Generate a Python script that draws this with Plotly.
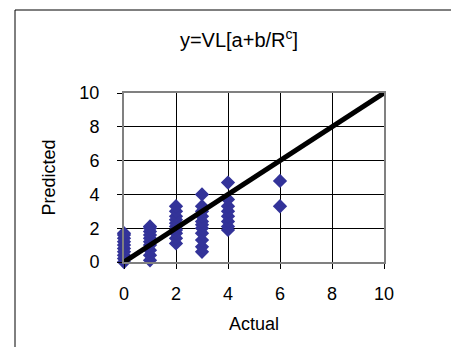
import plotly.graph_objects as go

# Data
actual = ([0] * 10 + [1] * 10 + [2] * 10 + [3] * 11 + [4] * 8 + [6] * 2)
predicted = [
    0.0, 0.2, 0.4, 0.6, 0.8, 1.0, 1.2, 1.4, 1.6, 1.7,
    0.1, 0.4, 0.7, 1.0, 1.2, 1.4, 1.6, 1.8, 2.0, 2.1,
    1.1, 1.4, 1.7, 1.9, 2.1, 2.3, 2.5, 2.7, 3.0, 3.3,
    0.6, 0.9, 1.3, 1.7, 2.0, 2.2, 2.4, 2.7, 3.0, 3.3, 4.0,
    1.9, 2.1, 2.4, 2.7, 3.0, 3.3, 3.7, 4.7,
    3.3, 4.8,
]
ideal_x = [0, 10]
ideal_y = [0, 10]
tick_vals = [0, 2, 4, 6, 8, 10]

W, H = 451, 347
L, R, T, B = 124, 67, 93, 85
pw, ph = W - L - R, H - T - B

def px_x(p):
    return (p - L) / pw

def px_y(p):
    return (H - B - p) / ph

fig = go.Figure()
fig.add_trace(go.Scatter(
    x=actual, y=predicted, mode="markers",
    marker=dict(symbol="diamond", size=11, color="#333399",
                line=dict(width=0)),
    showlegend=False, cliponaxis=False,
))
fig.add_trace(go.Scatter(
    x=ideal_x, y=ideal_y, mode="lines",
    line=dict(color="black", width=5),
    showlegend=False, cliponaxis=False,
))

FAM = "Liberation Sans, Arial, sans-serif"
font = dict(family=FAM, size=18, color="black")

fig.update_layout(
    width=W, height=H,
    margin=dict(l=L, r=R, t=T, b=B),
    paper_bgcolor="white", plot_bgcolor="white",
    font=font,
    title=dict(text="y=VL[a+b/R<sup>c</sup>]", x=px_x(239), xref="paper",
               xanchor="center", y=1 - 40 / H, yanchor="middle",
               font=dict(family=FAM, size=20, color="black")),
    xaxis=dict(range=[0, 10], tickvals=tick_vals, showgrid=True, gridcolor="black",
               gridwidth=1, zeroline=False, showline=True, linecolor="#808080",
               linewidth=2, mirror=True, ticks="outside", ticklen=5,
               tickcolor="black", tickfont=font, ticklabelstandoff=9,
               title=dict(text="Actual", font=font, standoff=15)),
    yaxis=dict(range=[0, 10], tickvals=tick_vals, showgrid=True, gridcolor="black",
               gridwidth=1, zeroline=False, showline=True, linecolor="#808080",
               linewidth=2, mirror=True, ticks="outside", ticklen=5,
               tickcolor="black", tickfont=font, ticklabelstandoff=14,
               title=dict(text="Predicted", font=font, standoff=19)),
    shapes=[
        dict(type="rect", xref="paper", yref="paper",
             x0=px_x(15), x1=px_x(470), y0=px_y(370), y1=px_y(10),
             line=dict(color="black", width=1), fillcolor="rgba(0,0,0,0)",
             layer="below"),
    ],
)

fig.write_html("out.html")
